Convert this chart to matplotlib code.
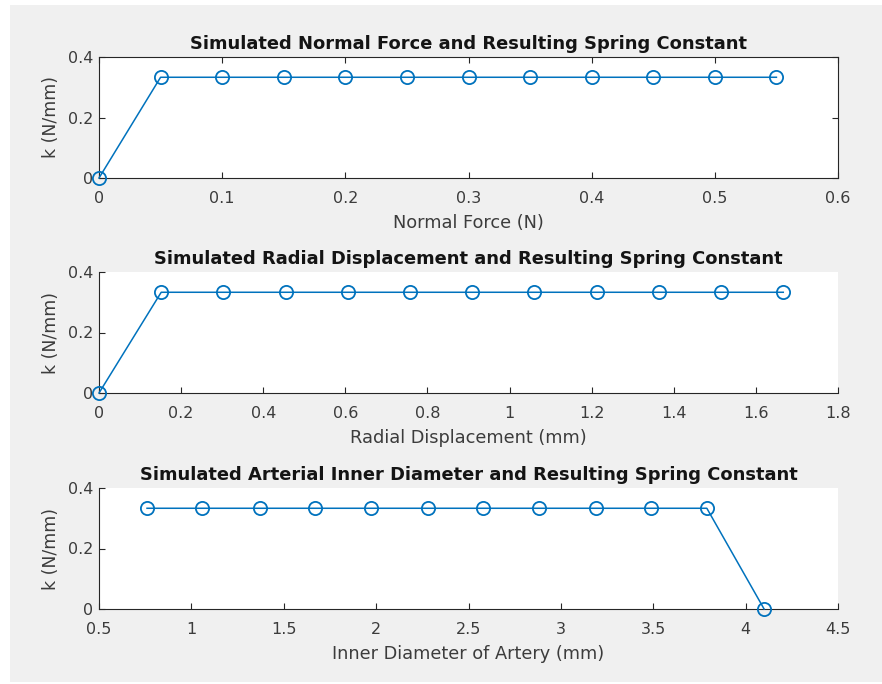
import matplotlib
matplotlib.use("Agg")
import matplotlib.pyplot as plt
from matplotlib.patches import Rectangle

# Simulated data
force = [0.0, 0.05, 0.10, 0.15, 0.20, 0.25, 0.30, 0.35, 0.40, 0.45, 0.50, 0.55]
radial = [0.0, 0.1515, 0.3030, 0.4545, 0.6061, 0.7576, 0.9091, 1.0606,
          1.2121, 1.3636, 1.5152, 1.6667]
diameter = [0.76, 1.06, 1.37, 1.67, 1.97, 2.28, 2.58, 2.88, 3.19, 3.49, 3.79, 4.10]
k_force = [0.0] + [0.333] * 11
k_radial = [0.0] + [0.333] * 11
k_diameter = [0.333] * 11 + [0.0]

titles = [
    "Simulated Normal Force and Resulting Spring Constant",
    "Simulated Radial Displacement and Resulting Spring Constant",
    "Simulated Arterial Inner Diameter and Resulting Spring Constant",
]
xlabels = ["Normal Force (N)", "Radial Displacement (mm)", "Inner Diameter of Artery (mm)"]
xlims = [(0, 0.6), (0, 1.8), (0.5, 4.5)]
xticks = [
    [0, 0.1, 0.2, 0.3, 0.4, 0.5, 0.6],
    [0, 0.2, 0.4, 0.6, 0.8, 1, 1.2, 1.4, 1.6, 1.8],
    [0.5, 1, 1.5, 2, 2.5, 3, 3.5, 4, 4.5],
]
boxed = [True, False, False]

plt.rcParams["font.family"] = ["DejaVu Sans"]
text_col = "#3c3c3c"
line_col = "#0072BD"

fig = plt.figure(figsize=(8.82, 6.84), dpi=100, facecolor="white")
# grey MATLAB figure panel, offset a little from the top-left corner
fig.patches.append(Rectangle((10 / 882, 2 / 684), 872 / 882, 677 / 684,
                             transform=fig.transFigure, facecolor="#f0f0f0",
                             edgecolor="none", zorder=-10))

bottoms = [1 - 178 / 684, 1 - 393 / 684, 1 - 609 / 684]
left = 99 / 882
width = (838 - 99) / 882
height = 121 / 684

series = [(force, k_force), (radial, k_radial), (diameter, k_diameter)]

for i, (xs, ys) in enumerate(series):
    ax = fig.add_axes([left, bottoms[i], width, height])
    ax.set_facecolor("white")
    ax.plot(xs, ys, "-o", color=line_col, lw=1.1, markersize=9.5,
            markerfacecolor="none", markeredgewidth=1.3, clip_on=False, zorder=5)
    ax.set_xlim(*xlims[i])
    ax.set_ylim(0, 0.4)
    ax.set_xticks(xticks[i])
    ax.set_xticklabels([f"{t:g}" for t in xticks[i]])
    ax.set_yticks([0, 0.2, 0.4])
    ax.set_yticklabels(["0", "0.2", "0.4"])
    ax.tick_params(direction="in", length=4, width=0.8, colors="#262626",
                   labelcolor=text_col, labelsize=11.5,
                   top=boxed[i], right=boxed[i])
    ax.tick_params(axis="x", pad=9)
    ax.tick_params(axis="y", pad=4)
    for side in ["left", "bottom", "top", "right"]:
        ax.spines[side].set_color("#262626")
        ax.spines[side].set_linewidth(0.8)
    if not boxed[i]:
        ax.spines["top"].set_visible(False)
        ax.spines["right"].set_visible(False)
    ax.set_title(titles[i], fontsize=12.9, fontweight="bold", color="#141414", pad=6)
    ax.set_xlabel(xlabels[i], fontsize=12.8, color=text_col, labelpad=6)
    ax.set_ylabel("k (N/mm)", fontsize=12.4, color=text_col, labelpad=6)

fig.savefig("out.png", dpi=100, facecolor=fig.get_facecolor())
